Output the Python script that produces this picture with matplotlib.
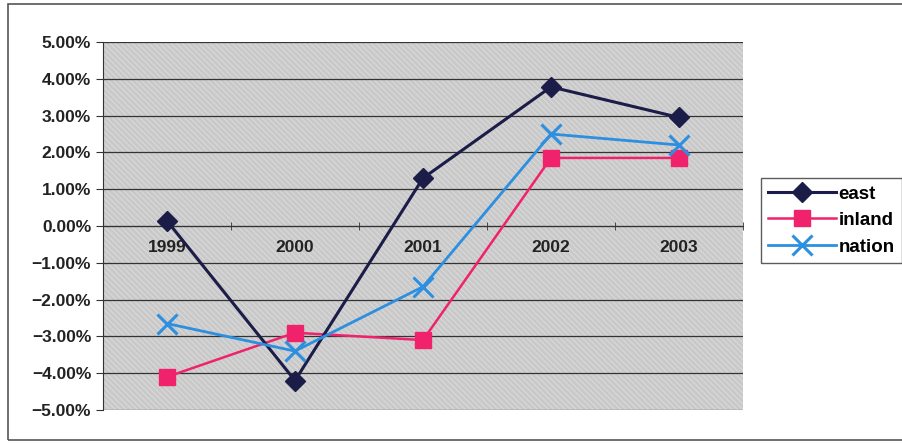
import numpy as np
import matplotlib
matplotlib.use("Agg")
import matplotlib.pyplot as plt
from matplotlib.patches import Rectangle
from matplotlib.ticker import FuncFormatter

plt.rcParams['font.family'] = ['Liberation Sans', 'DejaVu Sans']
plt.rcParams['hatch.linewidth'] = 0.6

years = ['1999', '2000', '2001', '2002', '2003']
east = [0.14, -4.2, 1.3, 3.78, 2.95]
inland = [-4.1, -2.9, -3.1, 1.85, 1.85]
nation = [-2.65, -3.4, -1.65, 2.5, 2.2]

fig = plt.figure(figsize=(9.02, 4.44), dpi=100)
fig.patch.set_facecolor('white')
fig.patches.append(Rectangle((8 / 902, 4 / 444), 0.995, 436 / 444, transform=fig.transFigure,
                             fill=False, edgecolor='#555555', linewidth=1.2))

ax = fig.add_axes([103 / 902, 34 / 444, 640 / 902, 368 / 444])
ax.set_facecolor('#c9c9c9')
ax.patch.set_hatch('\\\\\\\\\\\\')
ax.patch.set_edgecolor('#dedede')
ax.patch.set_linewidth(0)

x = np.arange(len(years))
ax.plot(x, east, color='#1c1c48', linewidth=2.2, marker='D', markersize=10, label='east', zorder=5)
ax.plot(x, inland, color='#f0226c', linewidth=1.8, marker='s', markersize=11, label='inland', zorder=4)
ax.plot(x, nation, color='#2d8fe0', linewidth=2.0, marker='x', markersize=14, markeredgewidth=2.2,
        label='nation', zorder=6)

ax.set_xlim(-0.5, 4.5)
ax.set_ylim(-5, 5)
ax.set_yticks(np.arange(-5, 6, 1))
ax.yaxis.set_major_formatter(FuncFormatter(lambda v, p: f"{v:.2f}%".replace('-', '\u2212')))
ax.grid(axis='y', color='#333333', linewidth=0.9)
ax.set_axisbelow(True)

for s in ['top', 'right']:
    ax.spines[s].set_visible(False)
ax.spines['left'].set_color('#333333')
ax.spines['bottom'].set_position(('data', 0))
ax.spines['bottom'].set_color('#333333')

ax.set_xticks(x)
ax.set_xticklabels(years)
ax.tick_params(axis='x', which='major', length=0, pad=10, labelsize=12.5)
ax.set_xticks(np.arange(-0.5, 5, 1), minor=True)
ax.tick_params(axis='x', which='minor', length=6, direction='inout', color='#333333')
ax.tick_params(axis='y', length=5, labelsize=12.5, color='#333333')
for lbl in ax.get_xticklabels() + ax.get_yticklabels():
    lbl.set_fontweight('bold')
    lbl.set_color('#222222')

leg = ax.legend(loc='center left', bbox_to_anchor=(1.028, 0.515), frameon=True, fancybox=False,
                edgecolor='#333333', fontsize=13.5, handlelength=3.6, handletextpad=0.15,
                borderpad=0.4, labelspacing=0.5, borderaxespad=0)
leg.get_frame().set_linewidth(1.0)
for t in leg.get_texts():
    t.set_fontweight('bold')

fig.savefig('out.png', dpi=100)
